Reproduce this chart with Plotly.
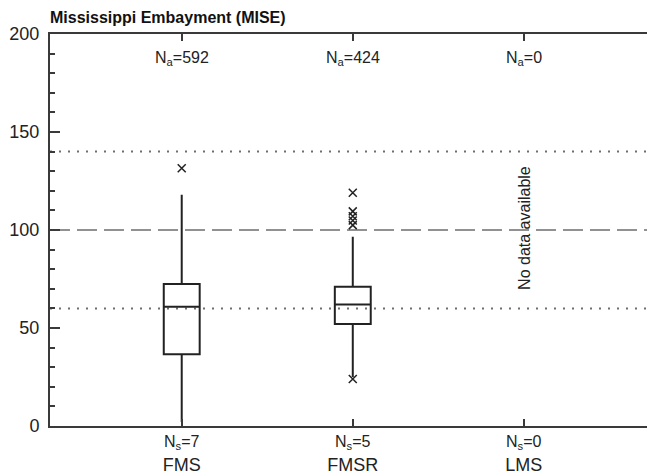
import plotly.graph_objects as go

# ---- data ----
categories = ["FMS", "FMSR", "LMS"]
n_sites = [7, 5, 0]
n_analyses = [592, 424, 0]

box_categories = ["FMS", "FMSR"]
q1 = [36.6, 52.0]
median = [60.8, 62.0]
q3 = [72.5, 71.0]
lower_whisker = [2.0, 25.0]
upper_whisker = [118.0, 96.5]

outlier_x = ["FMS", "FMSR", "FMSR", "FMSR", "FMSR", "FMSR", "FMSR"]
outlier_y = [131.5, 24.0, 102.5, 104.8, 107.0, 109.5, 119.0]

ref_dotted = [60, 140]
ref_dashed = [100]
y_ticks = [0, 50, 100, 150, 200]

no_data_category = "LMS"
no_data_y = 101

FONT = "Liberation Sans, Arial, Helvetica, sans-serif"
AX = "#3a3a3a"
REF = "#6e6e6e"

fig = go.Figure()

fig.add_trace(go.Box(
    x=box_categories,
    q1=q1, median=median, q3=q3,
    lowerfence=lower_whisker, upperfence=upper_whisker,
    boxpoints=False,
    fillcolor="rgba(0,0,0,0)",
    line=dict(color="#222222", width=2),
    whiskerwidth=0,
    width=0.21,
    showlegend=False,
    hoverinfo="skip",
))

fig.add_trace(go.Scatter(
    x=outlier_x, y=outlier_y, mode="markers",
    marker=dict(symbol="x-thin", size=8, color="#222222",
                line=dict(color="#222222", width=1.5)),
    showlegend=False, hoverinfo="skip",
))

for v in ref_dotted:
    fig.add_shape(type="line", xref="x domain", x0=0, x1=1, yref="y", y0=v, y1=v,
                  line=dict(color=REF, width=2, dash="2px,7px"), layer="below")
for v in ref_dashed:
    fig.add_shape(type="line", xref="x domain", x0=0, x1=1, yref="y", y0=v, y1=v,
                  line=dict(color=REF, width=1.5, dash="20px,7px"), layer="below")

for c, n in zip(categories, n_analyses):
    fig.add_annotation(x=c, xref="x", y=1, yref="paper", yanchor="middle",
                       yshift=-24, showarrow=False,
                       text=f"N<sub>a</sub>={n}",
                       font=dict(family=FONT, size=16, color="#222222"))
for c, n in zip(categories, n_sites):
    fig.add_annotation(x=c, xref="x", y=0, yref="paper", yanchor="middle",
                       yshift=-16, showarrow=False,
                       text=f"N<sub>s</sub>={n}",
                       font=dict(family=FONT, size=16, color="#222222"))

fig.add_annotation(x=no_data_category, xref="x", y=no_data_y, yref="y",
                   text="No data available", textangle=-90, showarrow=False,
                   font=dict(family=FONT, size=16, color="#222222"))

fig.update_layout(
    template="none",
    width=647, height=474,
    margin=dict(l=50, r=0, t=34, b=48, autoexpand=False),
    paper_bgcolor="white", plot_bgcolor="white",
    font=dict(family=FONT, color="#222222"),
    title=dict(text="<b>Mississippi Embayment (MISE)</b>",
               x=50 / 647, xanchor="left", xref="container",
               y=1 - 17 / 474, yanchor="middle", yref="container",
               font=dict(family=FONT, size=16, color="#111111")),
    xaxis=dict(
        type="category", categoryorder="array", categoryarray=categories,
        range=[-0.77, 2.72], automargin=False,
        showline=True, linecolor=AX, linewidth=2, mirror="ticks",
        ticks="inside", ticklen=7, tickwidth=1.5, tickcolor=AX,
        showgrid=False, zeroline=False,
        tickfont=dict(family=FONT, size=18, color="#222222"),
        ticklabelstandoff=21,
    ),
    yaxis=dict(
        range=[0, 200], tickvals=y_ticks, automargin=False,
        showline=True, linecolor=AX, linewidth=2,
        ticks="inside", ticklen=10, tickwidth=1.5, tickcolor=AX,
        minor=dict(dtick=10, ticks="inside", ticklen=5, tickwidth=1.5, tickcolor=AX),
        showgrid=False, zeroline=False,
        tickfont=dict(family=FONT, size=18, color="#222222"),
        ticklabelstandoff=5,
    ),
)

fig.write_html("out.html")
